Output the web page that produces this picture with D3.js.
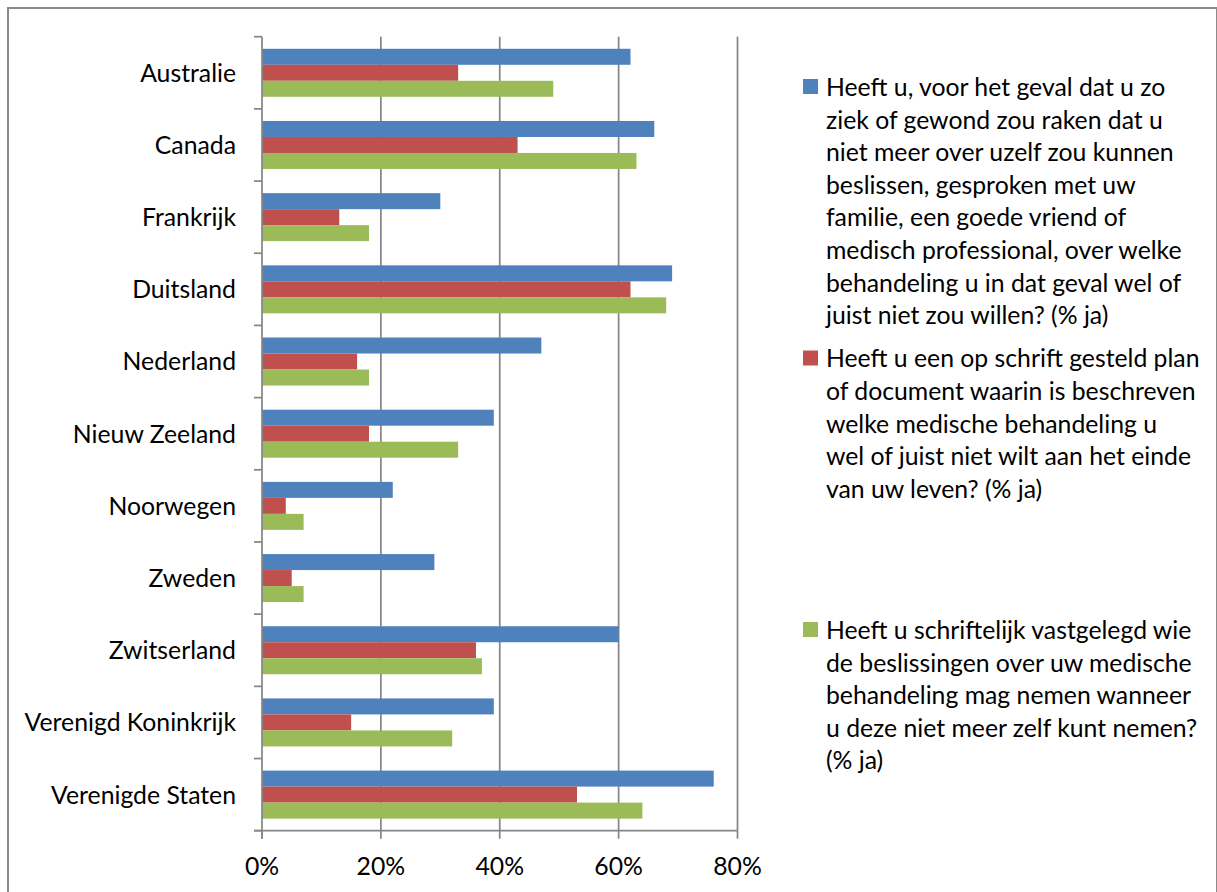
<!DOCTYPE html>
<html>
<head>
<meta charset="utf-8">
<script src="https://cdn.jsdelivr.net/npm/d3@7"></script>
<style>
  body { margin: 0; background: #fff; }
  text { font-family: Lato, "Open Sans", sans-serif; fill: #000; }
</style>
</head>
<body>
<svg id="chart" width="1217" height="892"></svg>
<script>
// data
let countries = ['Australie', 'Canada', 'Frankrijk', 'Duitsland', 'Nederland', 'Nieuw Zeeland',
  'Noorwegen', 'Zweden', 'Zwitserland', 'Verenigd Koninkrijk', 'Verenigde Staten'];
let gesproken = [62, 66, 30, 69, 47, 39, 22, 29, 60, 39, 76];
let planDocument = [33, 43, 13, 62, 16, 18, 4, 5, 36, 15, 53];
let vertegenwoordiger = [49, 63, 18, 68, 18, 33, 7, 7, 37, 32, 64];
let xTicks = [0, 20, 40, 60, 80];
let seriesColors = ['#4f81bd', '#c0504d', '#9bbb59'];
let legendLines = [
  ['Heeft u, voor het geval dat u zo', 'ziek of gewond zou raken dat u', 'niet meer over uzelf zou kunnen',
   'beslissen, gesproken met uw', 'familie, een goede vriend of', 'medisch professional, over welke',
   'behandeling u in dat geval wel of', 'juist niet zou willen? (% ja)'],
  ['Heeft u een op schrift gesteld plan', 'of document waarin is beschreven', 'welke medische behandeling u',
   'wel of juist niet wilt aan het einde', 'van uw leven? (% ja)'],
  ['Heeft u schriftelijk vastgelegd wie', 'de beslissingen over uw medische', 'behandeling mag nemen wanneer',
   'u deze niet meer zelf kunt nemen?', '(% ja)']
];

let allSeries = [gesproken, planDocument, vertegenwoordiger];

let svg = d3.select('#chart');
let gridCol = '#878787';

// size the font so the longest label is as wide as in the picture
let probe = svg.append('text').attr('font-size', 20).text('Verenigde Staten');
let fs = 20 * 185 / probe.node().getComputedTextLength();
probe.remove();

svg.append('rect').attr('width', 1217).attr('height', 892).attr('fill', '#fff');
svg.append('rect').attr('x', 8).attr('y', 8).attr('width', 1209).attr('height', 900)
  .attr('fill', 'none').attr('stroke', '#8a8a8a').attr('stroke-width', 2);

let x = d3.scaleLinear().domain([0, 80]).range([262, 737.5]);
let y = d3.scaleBand().domain(countries).range([36.7, 830.7]);
let ySub = d3.scaleBand().domain([0, 1, 2]).range([0, y.bandwidth()]).paddingOuter(0.756);

// gridlines
svg.append('g').selectAll('line').data(xTicks.slice(1)).join('line')
  .attr('x1', d => x(d)).attr('x2', d => x(d))
  .attr('y1', y.range()[0]).attr('y2', y.range()[1])
  .attr('stroke', gridCol).attr('stroke-width', 1.75);

// bars
allSeries.forEach(function(vals, s) {
  svg.append('g').selectAll('rect').data(vals).join('rect')
    .attr('x', x(0))
    .attr('y', (d, i) => y(countries[i]) + ySub(s))
    .attr('width', d => x(d) - x(0))
    .attr('height', ySub.bandwidth())
    .attr('fill', seriesColors[s]);
});

// y axis
let yAxis = svg.append('g');
yAxis.append('line').attr('x1', x(0)).attr('x2', x(0))
  .attr('y1', y.range()[0]).attr('y2', y.range()[1] + 8)
  .attr('stroke', gridCol).attr('stroke-width', 1.75);
let bounds = countries.map(c => y(c)).concat([y.range()[1]]);
yAxis.selectAll('line.tick').data(bounds).join('line').attr('class', 'tick')
  .attr('x1', x(0) - 8).attr('x2', x(0))
  .attr('y1', d => d).attr('y2', d => d)
  .attr('stroke', gridCol).attr('stroke-width', 1.75);
yAxis.selectAll('text').data(countries).join('text')
  .attr('x', 236).attr('y', d => y(d) + y.bandwidth() / 2)
  .attr('dy', '0.36em').attr('text-anchor', 'end')
  .attr('font-size', fs).text(d => d);

// x axis
let xAxis = svg.append('g');
xAxis.append('line').attr('x1', x(0) - 8).attr('x2', x(80))
  .attr('y1', y.range()[1]).attr('y2', y.range()[1])
  .attr('stroke', gridCol).attr('stroke-width', 1.75);
xAxis.selectAll('line.tick').data(xTicks).join('line').attr('class', 'tick')
  .attr('x1', d => x(d)).attr('x2', d => x(d))
  .attr('y1', y.range()[1]).attr('y2', y.range()[1] + 8)
  .attr('stroke', gridCol).attr('stroke-width', 1.75);
xAxis.selectAll('text').data(xTicks).join('text')
  .attr('x', d => x(d)).attr('y', 866).attr('dy', '0.36em')
  .attr('text-anchor', 'middle').attr('font-size', fs)
  .text(d => d + '%');

// legend
let legY = d3.scaleLinear().domain([0, 2]).range([79, 622]);
let lineH = 32.6;
legendLines.forEach(function(lines, s) {
  let g = svg.append('g').attr('transform', 'translate(803,' + legY(s) + ')');
  g.append('rect').attr('width', 15).attr('height', 15).attr('fill', seriesColors[s]);
  g.selectAll('text').data(lines).join('text')
    .attr('x', 23).attr('y', (d, i) => 8 + i * lineH).attr('dy', '0.36em')
    .attr('font-size', fs).text(d => d);
});
</script>
</body>
</html>
